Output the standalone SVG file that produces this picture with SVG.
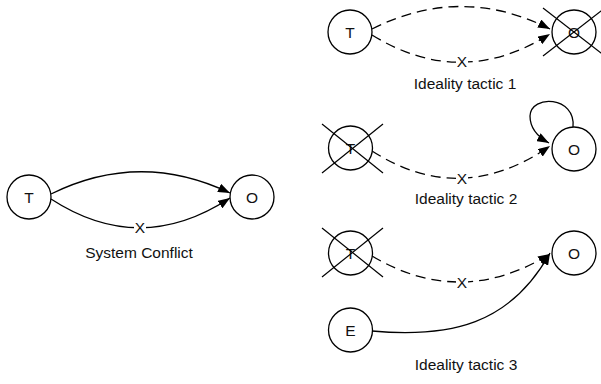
<svg xmlns="http://www.w3.org/2000/svg" width="601" height="384" viewBox="0 0 601 384">
  <style>
    .node circle { fill: #ffffff; stroke: #000000; stroke-width: 1.3; }
    .node text, .label, .edge-label text { font-family: "Liberation Sans", Arial, sans-serif; font-size: 15.5px; fill: #111111; text-anchor: middle; }
    .edge { fill: none; stroke: #000000; stroke-width: 1.3; }
    .dashed { stroke-dasharray: 10 6; }
    .strike { stroke: #000000; stroke-width: 1.2; }
    .edge-label rect { fill: #ffffff; }
  </style>
  <defs>
    <marker id="arrow" viewBox="0 0 12 9" refX="12" refY="4.5" markerWidth="12" markerHeight="9" markerUnits="userSpaceOnUse" orient="auto">
      <path d="M0,0 L12,4.5 L0,9 z" fill="#000000"/>
    </marker>
  </defs>

  <rect width="601" height="384" fill="#ffffff"/>

  <!-- connectors -->
  <g id="connectors">
    <!-- system conflict -->
    <path class="edge" d="M51,194 Q140,150 230,193" marker-end="url(#arrow)"/>
    <path class="edge" d="M51,199 Q140,257 230,198" marker-end="url(#arrow)"/>
    <!-- tactic 1 -->
    <path class="edge dashed" d="M372,29 Q461,-16 550,29" marker-end="url(#arrow)"/>
    <path class="edge dashed" d="M372,35 Q461,90 550,34" marker-end="url(#arrow)"/>
    <!-- tactic 2 -->
    <path class="edge dashed" d="M372,151 Q461,208 550,146" marker-end="url(#arrow)"/>
    <path class="edge" d="M573,127 C576,96 531,94 530,116 C530,128 538,137 549,143" marker-end="url(#arrow)"/>
    <!-- tactic 3 -->
    <path class="edge dashed" d="M372,256 Q461,309 550,254" marker-end="url(#arrow)"/>
    <path class="edge" d="M372,331 C450,338 510,325 550,253" marker-end="url(#arrow)"/>

    <g class="edge-label">
      <rect x="134" y="220" width="12" height="15"/>
      <text x="140" y="233">X</text>
      <rect x="456" y="54" width="12" height="15"/>
      <text x="462" y="67">X</text>
      <rect x="456" y="171" width="12" height="15"/>
      <text x="462" y="184">X</text>
      <rect x="456" y="275" width="12" height="15"/>
      <text x="462" y="288">X</text>
    </g>
  </g>

  <!-- system conflict -->
  <g id="sc-T" class="node">
    <circle cx="29" cy="197" r="22"/>
    <text x="29" y="202.5">T</text>
  </g>
  <g id="sc-O" class="node">
    <circle cx="252" cy="197" r="22"/>
    <text x="252" y="202.5">O</text>
  </g>
  <text class="label" x="139" y="258">System Conflict</text>

  <!-- ideality tactic 1 -->
  <g id="t1-T" class="node">
    <circle cx="350" cy="32" r="22"/>
    <text x="350" y="37.5">T</text>
  </g>
  <g id="t1-O" class="node">
    <circle cx="574" cy="32" r="22"/>
    <text x="574" y="37.5">O</text>
    <line class="strike" x1="543" y1="8" x2="605" y2="56"/>
    <line class="strike" x1="543" y1="56" x2="605" y2="8"/>
  </g>
  <text class="label" x="465" y="89">Ideality tactic 1</text>

  <!-- ideality tactic 2 -->
  <g id="t2-T" class="node">
    <circle cx="350.5" cy="148" r="22"/>
    <text x="350.5" y="153.5">T</text>
    <line class="strike" x1="322" y1="124" x2="383" y2="173"/>
    <line class="strike" x1="322" y1="173" x2="383" y2="124"/>
  </g>
  <g id="t2-O" class="node">
    <circle cx="574" cy="149" r="22"/>
    <text x="574" y="154.5">O</text>
  </g>
  <text class="label" x="466" y="204">Ideality tactic 2</text>

  <!-- ideality tactic 3 -->
  <g id="t3-T" class="node">
    <circle cx="350.5" cy="253" r="22"/>
    <text x="350.5" y="258.5">T</text>
    <line class="strike" x1="322" y1="228" x2="383" y2="277"/>
    <line class="strike" x1="322" y1="277" x2="383" y2="228"/>
  </g>
  <g id="t3-O" class="node">
    <circle cx="574" cy="253" r="22"/>
    <text x="574" y="258.5">O</text>
  </g>
  <g id="t3-E" class="node">
    <circle cx="350.5" cy="330" r="22"/>
    <text x="350.5" y="335.5">E</text>
  </g>
  <text class="label" x="466" y="370">Ideality tactic 3</text>
</svg>
